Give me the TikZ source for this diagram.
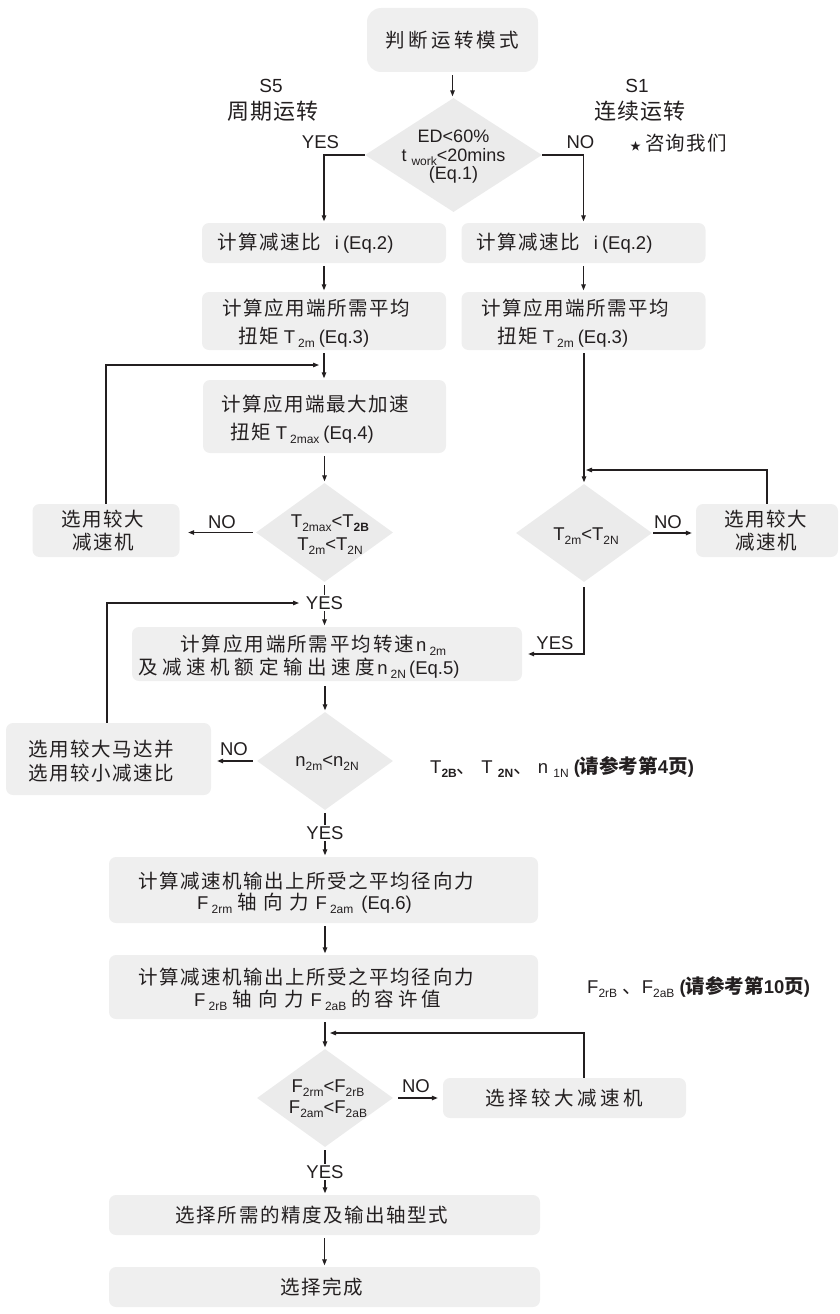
\documentclass[tikz,border=0pt]{standalone}
\usepackage{fontspec}
\setmainfont{Liberation Sans}
\newfontfamily\cjk{Noto Sans CJK SC}
\usetikzlibrary{arrows.meta,shapes.geometric,calc}
\definecolor{boxgray}{RGB}{239,239,239}
\definecolor{diagray}{RGB}{235,235,235}
\definecolor{ink}{RGB}{35,31,32}
\newcommand\zh[2][8]{{\fontsize{19.5}{23}\cjk\addfontfeature{LetterSpace=#1}#2}}
\newcommand\lo[1]{\raisebox{-4pt}{\fontsize{12}{12}\selectfont #1}}
\tikzset{
  box/.style={fill=boxgray, draw=none, rounded corners=7pt, inner sep=0pt},
  dia/.style={diamond, fill=diagray, draw=none, inner sep=0pt},
  arr/.style={draw=ink, line width=1.2pt, -{Triangle[length=6pt,width=4.5pt]}, shorten <=3pt, shorten >=1.5pt},
  lab/.style={inner sep=0pt, align=center, text=ink},
  yes/.style={fill=white, inner sep=1.5pt, text=ink},
}
\begin{document}
\begin{tikzpicture}[x=1pt,y=-1pt,font=\fontsize{18.5}{23}\selectfont]
\useasboundingbox (0,0) rectangle (839,1314);

% ---------- top ----------
\node[box, minimum width=171pt, minimum height=64pt, rounded corners=14pt, text=ink] (top) at (452.5,40) {\zh[17]{判断运转模式}};
\node[lab] (s5) at (271,86) {\fontsize{19}{22}\selectfont S5};
\node[lab] (s5z) at (273,111) {\zh[6]{\fontsize{22}{24}\selectfont 周期运转}};
\node[lab] (s1) at (637,86) {\fontsize{19}{22}\selectfont S1};
\node[lab] (s1z) at (640,111) {\zh[6]{\fontsize{22}{24}\selectfont 连续运转}};
\node[lab, anchor=west] (ask) at (630,143) {{\fontsize{11}{11}\cjk ★}\hspace{4pt}\zh[6]{咨询我们}};

\node[dia, minimum width=177pt, minimum height=114pt] (d1) at (453.5,155) {};
\node[lab, font=\fontsize{18}{18.5}\selectfont] (d1t) at (453.5,157) {ED<60\%\\t \lo{work}<20mins\\(Eq.1)};
\node[lab] (yes1) at (320.5,142) {YES};
\node[lab] (no1) at (580.5,142) {NO};

% ---------- boxes row 1 and 2 ----------
\node[box, minimum width=244pt, minimum height=40pt] (b1l) at (324,243) {};
\node[lab, anchor=west] (b1lt) at (217,243) {\zh{计算减速比}\hspace{14pt}i\hspace{4pt}(Eq.2)};
\node[box, minimum width=244pt, minimum height=40pt] (b1r) at (583.5,243) {};
\node[lab, anchor=west] (b1rt) at (476,243) {\zh{计算减速比}\hspace{14pt}i\hspace{4pt}(Eq.2)};

\node[box, minimum width=244pt, minimum height=58pt] (b2l) at (324,321) {};
\node[lab, anchor=west, align=left, font=\fontsize{18.5}{28}\selectfont] (b2lt) at (222,323) {\zh{计算应用端所需平均}\\\hspace{16pt}\zh{扭矩}\hspace{5pt}T\,\lo{2m}\hspace{4pt}(Eq.3)};
\node[box, minimum width=244pt, minimum height=58pt] (b2r) at (583.5,321) {};
\node[lab, anchor=west, align=left, font=\fontsize{18.5}{28}\selectfont] (b2rt) at (481,323) {\zh{计算应用端所需平均}\\\hspace{16pt}\zh{扭矩}\hspace{5pt}T\,\lo{2m}\hspace{4pt}(Eq.3)};

\node[box, minimum width=243pt, minimum height=73pt] (b3) at (324.5,416.5) {};
\node[lab, anchor=west, align=left, font=\fontsize{18.5}{28}\selectfont] (b3t) at (221,419) {\zh{计算应用端最大加速}\\\hspace{9pt}\zh{扭矩}\hspace{5pt}T\,\lo{2max}\hspace{4pt}(Eq.4)};

% ---------- diamond 2 / 3 ----------
\node[dia, minimum width=137pt, minimum height=99pt] (d2) at (324.5,532.5) {};
\node[lab] (d2t) at (330,535) {T\lo{2max}<T\lo{\bfseries 2B}\\T\lo{2m}<T\lo{2N}};
\node[box, minimum width=147pt, minimum height=53pt] (nl) at (106,530.5) {};
\node[lab] (nlt) at (103,531) {\zh{选用较大}\\\zh{减速机}};
\node[lab] (no2) at (222,522) {NO};

\node[dia, minimum width=136pt, minimum height=98pt] (d3) at (584,533) {};
\node[lab] (d3t) at (586,536) {T\lo{2m}<T\lo{2N}};
\node[box, minimum width=142pt, minimum height=53pt] (nr) at (767,530.5) {};
\node[lab] (nrt) at (766,531) {\zh{选用较大}\\\zh{减速机}};
\node[lab] (no3) at (668,522) {NO};

% ---------- box 4 / diamond 4 ----------
\node[box, minimum width=390pt, minimum height=54pt] (b4) at (327,654) {};
\node[lab, anchor=west, align=left] (b4t) at (138,657) {\hspace*{42pt}\zh[10]{计算应用端所需平均转速}\hspace{2pt}n\,\lo{2m}\\\zh[24]{及减速机额定输出速度}\hspace{2pt}n\,\lo{2N}\,(Eq.5)};
\node[lab] (yes3) at (555,643) {YES};

\node[dia, minimum width=136pt, minimum height=98pt] (d4) at (325,761) {};
\node[lab] (d4t) at (327,763) {n\lo{2m}<n\lo{2N}};
\node[box, minimum width=205pt, minimum height=72pt] (nl2) at (108.5,759) {};
\node[lab, align=left, font=\fontsize{18}{24}\selectfont] (nl2t) at (101,761) {\zh{选用较大马达并}\\\zh{选用较小减速比}};
\node[lab] (no4) at (234,749) {NO};

\node[lab, anchor=west] (note1) at (430,767) {T\lo{\bfseries 2B}\zh[0]{、} T \lo{\bfseries 2N}\zh[0]{、} n \lo{1N} {\bfseries (\zh[0]{请参考第}4\zh[0]{页})}};

% ---------- box 5 / 6 ----------
\node[box, minimum width=429pt, minimum height=66pt] (b5) at (323.5,890) {};
\node[lab, anchor=west, align=left, font=\fontsize{18.5}{21}\selectfont] (b5t) at (138,893) {\zh{计算减速机输出上所受之平均径向力}\\\hspace*{59pt}F\,\lo{2rm}\hspace{5pt}\zh[33]{轴向力}\hspace{7pt}F\,\lo{2am}\hspace{8pt}(Eq.6)};

\node[box, minimum width=429pt, minimum height=64pt] (b6) at (323.5,987) {};
\node[lab, anchor=west, align=left, font=\fontsize{18.5}{22}\selectfont] (b6t) at (138,989) {\zh{计算减速机输出上所受之平均径向力}\\\hspace*{56pt}F\,\lo{2rB}\hspace{5pt}\zh[33]{轴向力}\hspace{7pt}F\,\lo{2aB}\hspace{5pt}\zh[20]{的容许值}};

\node[lab, anchor=west] (note2) at (587,987) {F\lo{2rB} \zh[0]{、}F\lo{2aB} {\bfseries (\zh[0]{请参考第}10\zh[0]{页})}};

% ---------- diamond 5 ----------
\node[dia, minimum width=136pt, minimum height=98pt] (d5) at (325,1098) {};
\node[lab, font=\fontsize{18.5}{21}\selectfont] (d5t) at (328,1099) {F\lo{2rm}<F\lo{2rB}\\F\lo{2am}<F\lo{2aB}};
\node[box, minimum width=243pt, minimum height=40pt] (nb) at (564.5,1098) {};
\node[lab] (nbt) at (564,1098) {\zh[18]{选择较大减速机}};
\node[lab] (no5) at (416,1086) {NO};

% ---------- final boxes ----------
\node[box, minimum width=431pt, minimum height=40pt] (b7) at (324.5,1215) {};
\node[lab] (b7t) at (312,1215) {\zh{选择所需的精度及输出轴型式}};
\node[box, minimum width=431pt, minimum height=40pt] (b8) at (324.5,1287) {};
\node[lab] (b8t) at (322,1287) {\zh{选择完成}};

% ---------- coordinates ----------
\coordinate (fbA) at (319,365);
\coordinate (fbB) at (586,470);
\coordinate (fbC) at (299,603);
\coordinate (fbD) at (330,1033);

% ---------- connectors ----------
\draw[arr] (top.south) -- (top.south |- d1.north);
\draw[arr, shorten <=0pt] (d1.west) -| (b1l.north);
\draw[arr, shorten <=0pt] (d1.east) -| (b1r.north);
\draw[arr] (b1l.south) -- (b2l.north);
\draw[arr] (b1r.south) -- (b2r.north);
\draw[arr] (b2l.south) -- (b2l.south |- b3.north);
\draw[arr] (d2.north |- b3.south) -- (d2.north);
\draw[arr, shorten <=0pt, shorten >=0pt] (nl.north) |- (fbA);
\draw[arr, shorten >=8.5pt] (d2.west) -- (d2.west -| nl.east);
\draw[arr] (d3.north |- b2r.south) -- (d3.north);
\draw[arr, shorten <=0pt, shorten >=0pt] (nr.north) |- (fbB);
\draw[arr, shorten <=1pt, shorten >=4pt] (d3.east) -- (d3.east -| nr.west);
\draw[arr] (d2.south) -- (d2.south |- b4.north);
\draw[arr, shorten <=0pt, shorten >=0pt] ($(nl2.north)+(-1.5,0)$) |- (fbC);
\draw[arr, shorten <=5pt, shorten >=6pt] (d3.south) |- (b4.east);
\draw[arr, shorten <=5pt] (d4.north |- b4.south) -- (d4.north);
\draw[arr, shorten <=4pt, shorten >=6pt] (d4.west) -- (d4.west -| nl2.east);
\draw[arr] (d4.south) -- (d4.south |- b5.north);
\draw[arr] (d5.north |- b5.south) -- (d5.north |- b6.north);
\draw[arr] (d5.north |- b6.south) -- (d5.north);
\draw[arr, shorten <=0pt, shorten >=0pt] ($(nb.north)+(19.5,0)$) |- (fbD);
\draw[arr, shorten <=5pt, shorten >=5pt] (d5.east) -- (d5.east -| nb.west);
\draw[arr] (d5.south) -- (d5.south |- b7.north);
\draw[arr] (b7.south) -- (b8.north);

% ---------- YES labels on lines ----------
\node[yes] (yes2) at (324.5,603) {YES};
\node[yes] (yes4) at (325,833) {YES};
\node[yes] (yes5) at (325,1172) {YES};
\end{tikzpicture}
\end{document}
